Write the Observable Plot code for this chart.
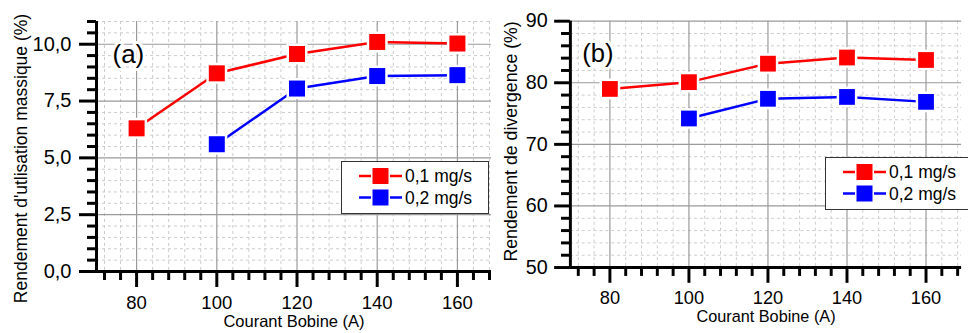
<!DOCTYPE html>
<html>
<head>
<meta charset="utf-8">
<script src="https://cdn.jsdelivr.net/npm/d3@7"></script>
<script src="https://cdn.jsdelivr.net/npm/@observablehq/plot@0.6"></script>
<style>
  html, body { margin: 0; padding: 0; background: #fff; }
  #wrap { position: relative; width: 968px; height: 333px; overflow: hidden; font-family: "Liberation Sans", Arial, sans-serif; }
  .panel { position: absolute; top: 0; }
  .legend { position: absolute; box-sizing: border-box; width: 148px; height: 53px; border: 1.2px solid #333; background: #fff; }
  .legend svg { position: absolute; left: 0; top: 0; }
</style>
</head>
<body>
<div id="wrap"></div>
<script>
// ---- data ----
const courant = [80, 100, 120, 140, 160];
const seriesNames = ["0,1 mg/s", "0,2 mg/s"];
const seriesColors = ["#ff0000", "#0000ff"];
// (a) Rendement d'utlisation massique (%)
const utilisation01 = [6.3, 8.72, 9.57, 10.1, 10.03];
const utilisation02 = [null, 5.6, 8.05, 8.6, 8.64];
// (b) Rendement de divergence (%)
const divergence01 = [79.0, 80.1, 83.1, 84.1, 83.7];
const divergence02 = [null, 74.2, 77.4, 77.7, 76.9];
// tick labels
const xTicks = [80, 100, 120, 140, 160];
const yTicksA = [0, 2.5, 5, 7.5, 10];
const yTicksB = [50, 60, 70, 80, 90];

const font = '"Liberation Sans", Arial, sans-serif';
const fmtA = d => d.toFixed(1).replace(".", ",");

function rows(vals0, vals1) {
  const out = [];
  [vals0, vals1].forEach((vals, s) => {
    courant.forEach((c, i) => {
      if (vals[i] != null) out.push({x: c, y: vals[i], s: seriesNames[s]});
    });
  });
  return out;
}

function panel(cfg) {
  const xMinor = d3.range(72, cfg.xMax + 0.01, 4).filter(v => !xTicks.includes(v));
  const yMinor = d3.range(cfg.yDomain[0] + cfg.yStep, cfg.yDomain[1] + 1e-9, cfg.yStep)
    .map(v => +v.toFixed(3)).filter(v => !cfg.yTicks.includes(v));
  const data = rows(cfg.v0, cfg.v1);
  const colorOf = Object.fromEntries(seriesNames.map((n, i) => [n, seriesColors[i]]));
  return Plot.plot({
    width: cfg.width, height: 333,
    marginLeft: cfg.marginLeft, marginRight: cfg.marginRight, marginTop: 21, marginBottom: 62,
    x: {domain: [70, cfg.xMax]},
    y: {domain: cfg.yDomain},
    style: {fontFamily: font, fontSize: "19px", color: "#000", background: "transparent", overflow: "visible"},
    marks: [
      Plot.ruleX(xMinor, {stroke: "#cccccc", strokeDasharray: "3,3", strokeWidth: 1}),
      Plot.ruleY(yMinor, {stroke: "#cccccc", strokeDasharray: "3,3", strokeWidth: 1}),
      Plot.ruleX(xTicks, {stroke: "#9a9a9a", strokeWidth: 1.2}),
      Plot.ruleY(cfg.yTicks, {stroke: "#9a9a9a", strokeWidth: 1.2}),
      Plot.axisX({ticks: xMinor, tickSize: 9, strokeWidth: 3, stroke: "#000", tickFormat: () => "", label: null}),
      Plot.axisX({ticks: xTicks, tickSize: 16, tickPadding: 8, strokeWidth: 3, stroke: "#000", fontSize: 18.5, label: null}),
      Plot.axisY({ticks: yMinor, tickSize: 9, strokeWidth: 3, stroke: "#000", tickFormat: () => "", label: null}),
      Plot.axisY({ticks: cfg.yTicks, tickSize: cfg.yTickSize, tickPadding: cfg.yTickPad, strokeWidth: 3, stroke: "#000", fontSize: 20, tickFormat: cfg.fmt, label: null}),
      Plot.ruleY([cfg.yDomain[0]], {stroke: "#000", strokeWidth: 3}),
      Plot.ruleX([70], {stroke: "#000", strokeWidth: 3}),
      Plot.text([cfg.xTitle], {frameAnchor: "bottom", textAnchor: "middle", dy: 55.5, fontSize: 16.5, fill: "#000"}),
      Plot.text([cfg.yTitle], {frameAnchor: "left", textAnchor: "middle", rotate: -90, dx: cfg.yTitleDx, dy: cfg.yTitleDy, fontSize: cfg.yTitleSize, fill: "#000"}),
      Plot.text([cfg.tag], {frameAnchor: "top-left", textAnchor: "start", dx: cfg.tagDx, dy: 23, fontSize: 26, fill: "#000", stroke: "#fff", strokeWidth: 6, paintOrder: "stroke"}),
      Plot.line(data, {x: "x", y: "y", z: "s", stroke: d => colorOf[d.s], strokeWidth: 2.5}),
      Plot.dot(data, {x: "x", y: "y", symbol: "square", r: 9.03, fill: d => colorOf[d.s], stroke: "#fff", strokeWidth: 5, paintOrder: "stroke"})
    ]
  });
}

function legend(left, top) {
  const div = document.createElement("div");
  div.className = "legend";
  div.style.left = left + "px";
  div.style.top = top + "px";
  let s = `<svg width="148" height="53" xmlns="http://www.w3.org/2000/svg">`;
  seriesNames.forEach((n, i) => {
    const cy = 14 + i * 21.5;
    const c = seriesColors[i];
    s += `<line x1="17" x2="29" y1="${cy}" y2="${cy}" stroke="${c}" stroke-width="2.5"/>`;
    s += `<line x1="48" x2="60" y1="${cy}" y2="${cy}" stroke="${c}" stroke-width="2.5"/>`;
    s += `<rect x="30.5" y="${cy - 8}" width="16" height="16" fill="${c}"/>`;
    s += `<text x="63" y="${cy}" dy="0.36em" font-family='${font}' font-size="17.5" fill="#000">${n}</text>`;
  });
  s += `</svg>`;
  div.innerHTML = s;
  return div;
}

const wrap = document.getElementById("wrap");

const pa = panel({
  width: 495, marginLeft: 96, marginRight: 4, xMax: 168.5,
  yDomain: [0, 11], yTicks: yTicksA, yStep: 0.5, fmt: fmtA,
  yTickSize: 17, yTickPad: 8,
  v0: utilisation01, v1: utilisation02,
  xTitle: "Courant Bobine (A)",
  yTitle: "Rendement d'utlisation massique (%)", yTitleDx: -75, yTitleDy: 12, yTitleSize: 17.5,
  tag: "(a)", tagDx: 16
});
const da = document.createElement("div"); da.className = "panel"; da.style.left = "0px"; da.appendChild(pa);
wrap.appendChild(da);

const pb = panel({
  width: 480, marginLeft: 76, marginRight: 7, xMax: 169,
  yDomain: [50, 90], yTicks: yTicksB, yStep: 2, fmt: d => String(d),
  yTickSize: 16, yTickPad: 7,
  v0: divergence01, v1: divergence02,
  xTitle: "Courant Bobine (A)",
  yTitle: "Rendement de divergence (%)", yTitleDx: -60, yTitleDy: -3, yTitleSize: 18,
  tag: "(b)", tagDx: 12
});
const db = document.createElement("div"); db.className = "panel"; db.style.left = "495px"; db.appendChild(pb);
wrap.appendChild(db);

wrap.appendChild(legend(341, 161));
wrap.appendChild(legend(825, 157));
</script>
</body>
</html>
